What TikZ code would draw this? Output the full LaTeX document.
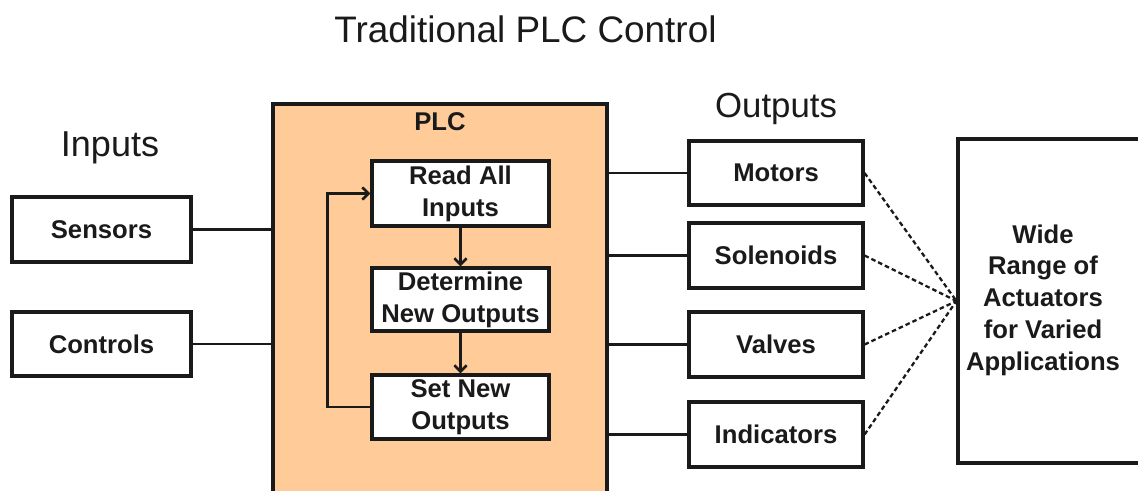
\documentclass[tikz,border=0pt]{standalone}
\usepackage{fontspec}
\setmainfont{Liberation Sans}
\usetikzlibrary{positioning,arrows.meta}
\definecolor{plcfill}{HTML}{FFCC99}
\definecolor{ink}{HTML}{1A1A1A}
\tikzset{
  heading/.style={anchor=base, text=ink, font=\fontsize{20.5}{24}\selectfont},
  box/.style={draw=ink, line width=1.8pt, fill=white, inner sep=0pt, align=center,
    text=ink, font=\bfseries\fontsize{14.6}{18.1}\selectfont},
  wire/.style={draw=ink, line width=1.5pt},
  hint/.style={draw=ink, line width=1.3pt, dash pattern=on 2.6pt off 1.7pt},
  >={Straight Barb[length=3.6pt,width=7pt]}
}
\begin{document}
\begin{tikzpicture}[x=0.02cm,y=-0.02cm]
    \clip (0,0) rectangle (1138,490);
    % headings
    \node [heading, font=\fontsize{21}{25}\selectfont] (title) at (525.5,42) {Traditional PLC Control};
    \node [heading] (inlabel) at (110,156) {Inputs};
    \node [heading, font=\fontsize{19.8}{24}\selectfont] (outlabel) at (776,117) {Outputs};
    % inputs
    \node [box, minimum width=179*0.02cm, minimum height=65*0.02cm] (sensors) at (101.5,229.5) {Sensors};
    \node [box, minimum width=179*0.02cm, minimum height=64*0.02cm] (controls) at (101.5,344) {Controls};
    % plc
    \node [box, fill=plcfill, minimum width=334*0.02cm, minimum height=420*0.02cm] (plc) at (440,314) {};
    \node [box, draw=none, fill=none] (plclabel) at (440,122) {PLC};
    \node [box, minimum width=177*0.02cm, minimum height=65*0.02cm] (read) at (460.5,193.5) {Read All\\Inputs};
    \node [box, minimum width=177*0.02cm, minimum height=63*0.02cm] (determine) at (460.5,299.5) {Determine\\New Outputs};
    \node [box, minimum width=177*0.02cm, minimum height=64*0.02cm] (setout) at (460.5,407) {Set New\\Outputs};
    % outputs
    \node [box, minimum width=174*0.02cm, minimum height=64*0.02cm] (motors) at (776,173) {Motors};
    \node [box, minimum width=174*0.02cm, minimum height=65*0.02cm] (solenoids) at (776,255.5) {Solenoids};
    \node [box, minimum width=174*0.02cm, minimum height=65*0.02cm] (valves) at (776,344.5) {Valves};
    \node [box, minimum width=174*0.02cm, minimum height=65*0.02cm] (indicators) at (776,434.5) {Indicators};
    \node [box, minimum width=210*0.02cm, minimum height=324*0.02cm] (act) at (1063,301) {};
    \node [box, draw=none, fill=none] (acttext) at (1043,300) {Wide\\Range of\\Actuators\\for Varied\\Applications};
    % wires
    \draw [wire] (sensors.east) -- (sensors.east -| plc.west);
    \draw [wire] (controls.east) -- (controls.east -| plc.west);
    \foreach \o in {motors,solenoids,valves,indicators}
        \draw [wire] (\o.west -| plc.east) -- (\o.west);
    \draw [wire,->] (read) -- (determine);
    \draw [wire,->] (determine) -- (setout);
    \draw [wire,->] (setout.west) -- ++(-43,0) |- (read.west);
    \foreach \o in {motors,solenoids,valves,indicators}
        \draw [hint] (\o.east) -- (act.west);
\end{tikzpicture}
\end{document}
